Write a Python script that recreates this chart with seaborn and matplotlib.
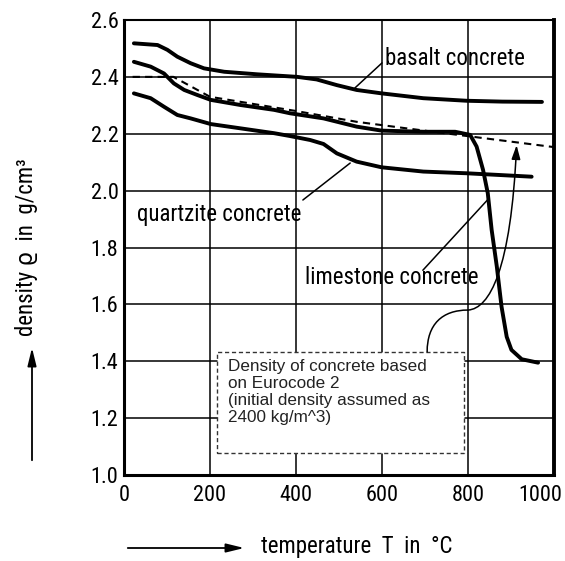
import numpy as np
import pandas as pd
import seaborn as sns
import matplotlib
matplotlib.use("Agg")
import matplotlib.pyplot as plt
from matplotlib import font_manager as fm
from matplotlib.patches import Rectangle, FancyArrowPatch
from matplotlib.path import Path
from matplotlib.transforms import ScaledTranslation

# Density of concrete vs. temperature (readings, T in degC, rho in g/cm^3)
basalt_t = [23, 78, 101, 124, 155, 186, 233, 310, 403, 448, 495, 541, 599, 696, 797, 880, 972]
basalt_rho = [2.518, 2.512, 2.495, 2.471, 2.448, 2.43, 2.418, 2.409, 2.40, 2.391, 2.371, 2.354,
              2.342, 2.325, 2.316, 2.313, 2.312]

limestone_t = [23, 62, 93, 116, 140, 171, 202, 271, 349, 386, 464, 541, 599, 696, 770, 805,
               820, 835, 846, 855, 867, 878, 890, 901, 925, 963]
limestone_rho = [2.453, 2.436, 2.412, 2.377, 2.354, 2.336, 2.319, 2.301, 2.284, 2.272, 2.254, 2.225,
                 2.211, 2.207, 2.207, 2.196, 2.155, 2.073, 1.991, 1.862, 1.733, 1.592, 1.486, 1.44,
                 1.407, 1.395]

quartzite_t = [23, 62, 93, 124, 155, 202, 271, 349, 386, 433, 464, 495, 541, 599, 696, 797, 948]
quartzite_rho = [2.342, 2.325, 2.295, 2.266, 2.254, 2.234, 2.219, 2.202, 2.192, 2.178, 2.164, 2.131,
                 2.102, 2.082, 2.067, 2.061, 2.049]

# Eurocode 2 density curve for an initial density of 2400 kg/m^3
ec2_t = [20, 115, 200, 400, 541, 657, 808, 1000]
ec2_rho = [2.40, 2.40, 2.33, 2.28, 2.242, 2.219, 2.19, 2.153]

x_ticks = [0, 200, 400, 600, 800, 1000]
x_tick_labels = ["0", "200", "400", "600", "800", "1000"]
y_ticks = [1.0, 1.2, 1.4, 1.6, 1.8, 2.0, 2.2, 2.4, 2.6]
y_tick_labels = ["1.0", "1.2", "1.4", "1.6", "1.8", "2.0", "2.2", "2.4", "2.6"]

sns.set_theme(style="white")

installed = {f.name for f in fm.fontManager.ttflist}
narrow = next((n for n in ["Roboto Condensed", "Liberation Sans Narrow", "Open Sans Condensed"]
               if n in installed), "DejaVu Sans")
plt.rcParams["font.family"] = [narrow, "DejaVu Sans"]
plt.rcParams["axes.edgecolor"] = "black"

curves = pd.concat([
    pd.DataFrame({"T": basalt_t, "rho": basalt_rho, "concrete": "basalt"}),
    pd.DataFrame({"T": limestone_t, "rho": limestone_rho, "concrete": "limestone"}),
    pd.DataFrame({"T": quartzite_t, "rho": quartzite_rho, "concrete": "quartzite"}),
], ignore_index=True)
ec2 = pd.DataFrame({"T": ec2_t, "rho": ec2_rho})

fig = plt.figure(figsize=(5.65, 5.61), dpi=100)
ax = fig.add_axes([124 / 565, 1 - 475 / 561, 430 / 565, 455 / 561])

sns.lineplot(data=curves, x="T", y="rho", units="concrete", estimator=None, sort=False,
             color="black", lw=2.8, solid_capstyle="round", solid_joinstyle="round", ax=ax, zorder=4)
sns.lineplot(data=ec2, x="T", y="rho", sort=False, color="black", lw=1.5,
             linestyle=(0, (3.5, 2.5)), ax=ax, zorder=5)

ax.set_xlim(0, 1000)
ax.set_ylim(1.0, 2.6)
ax.set_xticks(x_ticks)
ax.set_xticklabels(x_tick_labels)
ax.set_yticks(y_ticks)
ax.set_yticklabels(y_tick_labels)
ax.set_xlabel("")
ax.set_ylabel("")
ax.grid(True, color="black", lw=1.1, zorder=0)
ax.set_axisbelow(True)
for side, w in {"left": 2.2, "bottom": 2.2, "right": 2.8, "top": 1.5}.items():
    ax.spines[side].set_visible(True)
    ax.spines[side].set_linewidth(w)
    ax.spines[side].set_color("black")
ax.tick_params(axis="y", direction="out", length=3, width=1.2, pad=1, labelsize=16, colors="black")
ax.tick_params(axis="x", length=0, pad=7, labelsize=16, colors="black")

# keep the last temperature label inside the canvas
last = ax.get_xticklabels()[-1]
last.set_horizontalalignment("right")
last.set_transform(last.get_transform() + ScaledTranslation(0.08, 0, fig.dpi_scale_trans))

label_kw = dict(fontsize=16.5, color="black", zorder=6)
ax.text(607, 2.466, "basalt concrete", va="center", ha="left", **label_kw)
ax.text(30, 1.917, "quartzite concrete", va="center", ha="left", **label_kw)
ax.text(421, 1.696, "limestone concrete", va="center", ha="left", **label_kw)

leader_kw = dict(color="black", lw=1.1, zorder=5)
ax.plot([600, 537], [2.449, 2.361], **leader_kw)
ax.plot([416, 526], [1.967, 2.097], **leader_kw)
ax.plot([695, 847], [1.72, 1.97], **leader_kw)

# Note box for the Eurocode curve
ax.add_patch(Rectangle((216, 1.077), 575, 0.356, facecolor="white", edgecolor="#333333",
                       lw=1.0, linestyle=(0, (3, 2)), zorder=6))
ax.text(242, 1.408, "Density of concrete based\non Eurocode 2\n(initial density assumed as\n2400 kg/m^3)",
        family=["Liberation Sans", "DejaVu Sans"], fontsize=12.3, linespacing=1.18,
        va="top", ha="left", color="#222222", zorder=7)

arrow_path = Path([(705, 1.433), (705, 1.53), (740, 1.58), (800, 1.58),
                   (850, 1.585), (900, 1.72), (913, 2.16)],
                  [Path.MOVETO, Path.CURVE4, Path.CURVE4, Path.CURVE4,
                   Path.CURVE4, Path.CURVE4, Path.CURVE4])
ax.add_patch(FancyArrowPatch(path=arrow_path, arrowstyle="-|>,head_length=0.7,head_width=0.22",
                             mutation_scale=12, lw=1.1, color="black", zorder=7))

# Axis titles with direction arrows
fig.text(27 / 565, 1 - 247 / 561, "density ϱ  in  g/cm³", rotation=90,
         ha="center", va="center", fontsize=16.5, color="black")
fig.add_artist(FancyArrowPatch((32 / 565, 1 - 463 / 561), (32 / 565, 1 - 345 / 561),
                               transform=fig.transFigure, arrowstyle="-|>,head_length=0.9,head_width=0.22",
                               mutation_scale=12, lw=1.3, color="black"))
fig.text(357 / 565, 1 - 547 / 561, "temperature  T  in  °C", ha="center", va="center",
         fontsize=16.5, color="black")
fig.add_artist(FancyArrowPatch((125 / 565, 1 - 548 / 561), (247 / 565, 1 - 548 / 561),
                               transform=fig.transFigure, arrowstyle="-|>,head_length=0.9,head_width=0.22",
                               mutation_scale=12, lw=1.3, color="black"))

fig.savefig("out.png", dpi=100)
